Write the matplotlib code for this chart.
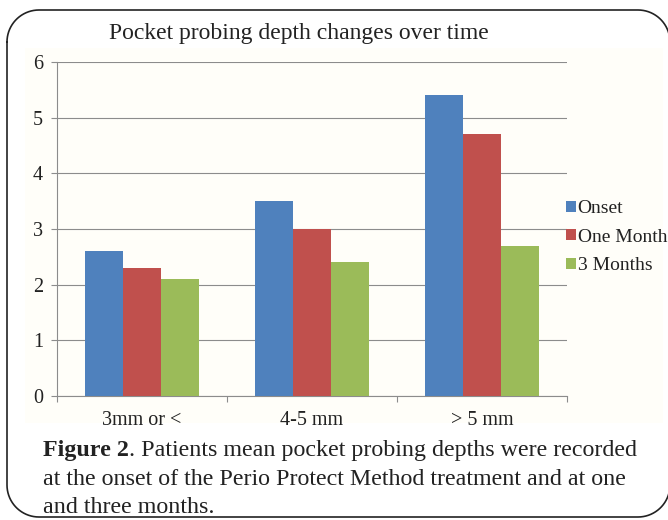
import matplotlib
matplotlib.use("Agg")
import matplotlib.pyplot as plt
from matplotlib.patches import Rectangle
from matplotlib.lines import Line2D
import numpy as np

categories = ["3mm or <", "4-5 mm", "> 5 mm"]
series_names = ["Onset", "One Month", "3 Months"]
onset = [2.6, 3.5, 5.4]
one_month = [2.3, 3.0, 4.7]
three_months = [2.1, 2.4, 2.7]
colors = ["#4F81BD", "#C0504D", "#9BBB59"]

plt.rcParams['font.family'] = ['Liberation Serif', 'DejaVu Serif']

W, H = 668, 520
fig = plt.figure(figsize=(W / 100, H / 100), dpi=100)


def fx(px):
    return px / W


def fy(py):
    return 1 - py / H


# faint chart-area tint
fig.patches.append(Rectangle((fx(25), fy(423)), 638 / W, 375 / H,
                             transform=fig.transFigure, facecolor="#fffef9",
                             edgecolor="none", zorder=-1))

# rounded frame around chart + caption (pixel space, y down)
def rounded_frame(x0, y0, x1, y1, r):
    pts = []
    for cx, cy, a0 in [(x0 + r, y0 + r, 180), (x1 - r, y0 + r, 270),
                       (x1 - r, y1 - r, 0), (x0 + r, y1 - r, 90)]:
        a = np.radians(np.linspace(a0, a0 + 90, 20))
        pts += list(zip(cx + r * np.cos(a), cy + r * np.sin(a)))
    pts.append(pts[0])
    xs = [fx(p[0]) for p in pts]
    ys = [fy(p[1]) for p in pts]
    fig.lines.append(Line2D(xs, ys, transform=fig.transFigure,
                            color="#222222", linewidth=1.2, zorder=5))


rounded_frame(7, 10, 670, 517, 32)

ax = fig.add_axes([fx(57), fy(396), 510 / W, 334 / H])
ax.set_facecolor("none")

x = np.arange(len(categories))
w = 1 / 4.5
for i, (vals, name) in enumerate(zip([onset, one_month, three_months], series_names)):
    ax.bar(x + (i - 1) * w, vals, width=w, color=colors[i], label=name, zorder=3)

ax.set_xlim(-0.5, 2.5)
ax.set_ylim(0, 6)
ax.set_yticks(range(7))
ax.grid(axis="y", color="#8c8c8c", linewidth=0.8, zorder=0)
for s in ["top", "right"]:
    ax.spines[s].set_visible(False)
for s in ["left", "bottom"]:
    ax.spines[s].set_color("#8c8c8c")
    ax.spines[s].set_linewidth(0.8)

ax.set_xticks(x)
ax.set_xticklabels(categories, fontsize=14.5, color="#222222")
ax.tick_params(axis="x", which="major", length=0, pad=11)
ax.set_xticks([-0.5, 0.5, 1.5, 2.5], minor=True)
ax.tick_params(axis="x", which="minor", length=4, color="#8c8c8c", width=0.8)
ax.tick_params(axis="y", length=4, color="#8c8c8c", width=0.8, pad=6,
               labelsize=14.5, labelcolor="#222222")

fig.text(fx(299), fy(34), "Pocket probing depth changes over time",
         ha="center", va="center", fontsize=17, color="#222222")

leg = ax.legend(loc="upper left", bbox_to_anchor=(fx(566), fy(200)),
                bbox_transform=fig.transFigure, frameon=False, fontsize=14,
                handlelength=0.5, handleheight=0.5, handletextpad=0.1,
                labelspacing=0.6, borderaxespad=0, borderpad=0)
for t in leg.get_texts():
    t.set_color("#222222")

# caption
cap_size = 17.3
fig.canvas.draw()
r = fig.canvas.get_renderer()
t1 = fig.text(fx(43), fy(456), "Figure 2", fontsize=cap_size,
              fontweight="bold", va="baseline", color="#222222")
bb = t1.get_window_extent(renderer=r)
fig.text(bb.x1 / fig.bbox.width, fy(456),
         ". Patients mean pocket probing depths were recorded",
         fontsize=cap_size, va="baseline", color="#222222")
fig.text(fx(43), fy(485),
         "at the onset of the Perio Protect Method treatment and at one",
         fontsize=cap_size, va="baseline", color="#222222")
fig.text(fx(43), fy(513), "and three months.",
         fontsize=cap_size, va="baseline", color="#222222")

fig.savefig("out.png", dpi=100)
